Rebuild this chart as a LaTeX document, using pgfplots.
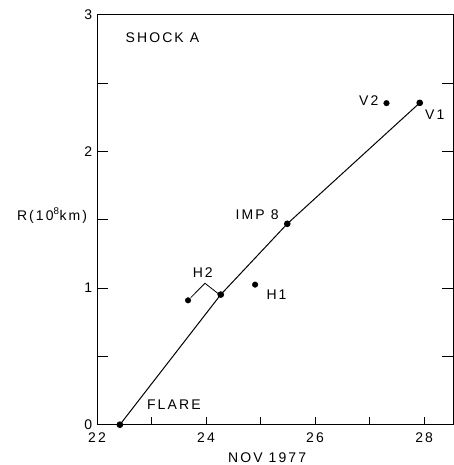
\documentclass[border=0pt]{standalone}
\usepackage{fontspec}
\setmainfont{Liberation Sans}[LetterSpace=15]
\usepackage{pgfplots}
\pgfplotsset{compat=1.18}
\begin{document}
\fontsize{14bp}{16bp}\selectfont
\begin{tikzpicture}
\begin{axis}[
    at={(0,0)}, anchor=south west,
    scale only axis,
    width=356bp, height=410bp,
    xmin=22, xmax=28.53,
    ymin=0, ymax=3,
    axis line style={line width=0.9bp},
    xtick={22,24,26,28},
    minor xtick={23,25,27},
    ytick={0,1,2,3},
    minor ytick={0.5,1.5,2.5},
    xtick pos=bottom,
    ytick pos=both,
    tick align=inside,
    major tick style={line width=0.8bp, black},
    minor tick style={line width=0.8bp, black},
    xtick style={/pgfplots/major tick length=8bp, /pgfplots/minor tick length=8bp},
    ytick style={/pgfplots/major tick length=11bp, /pgfplots/minor tick length=11bp},
    /pgf/number format/assume math mode=true,
    tick label style={font=\fontsize{14bp}{16bp}\selectfont},
    xticklabel style={yshift=-3bp},
    xlabel={NOV 1977},
    ylabel={R(10\textsuperscript{8}km)},
    every axis x label/.style={at={(axis cs:25.12,0)}, yshift=-33bp, anchor=center},
    every axis y label/.style={at={(axis cs:22,1.53)}, xshift=-5bp, anchor=east},
    clip=false,
]
% shock front trajectory
\addplot[black, line width=1bp, mark=*, mark size=2.8bp] coordinates {
    (22.42,0) (24.27,0.952) (25.49,1.47) (27.92,2.355)
};
% other spacecraft
\addplot[only marks, mark=*, mark size=2.8bp, black] coordinates {
    (23.67,0.91) (24.90,1.025) (27.31,2.353)
};
% H2 bracket
\addplot[black, line width=0.8bp] coordinates {
    (23.72,0.93) (23.98,1.035) (24.22,0.96)
};
\node at (axis cs:23.2,2.83) {SHOCK A};
\node[anchor=east] at (axis cs:27.25,2.37) {V2};
\node[anchor=west] at (axis cs:27.93,2.27) {V1};
\node[anchor=east] at (axis cs:25.42,1.54) {IMP 8};
\node at (axis cs:23.94,1.11) {H2};
\node[anchor=west] at (axis cs:25.02,0.95) {H1};
\node at (axis cs:23.41,0.15) {FLARE};
\end{axis}
\pgfresetboundingbox
\path[use as bounding box] (-97bp,-40.3bp) rectangle (357bp,424.7bp);
\end{tikzpicture}
\end{document}
